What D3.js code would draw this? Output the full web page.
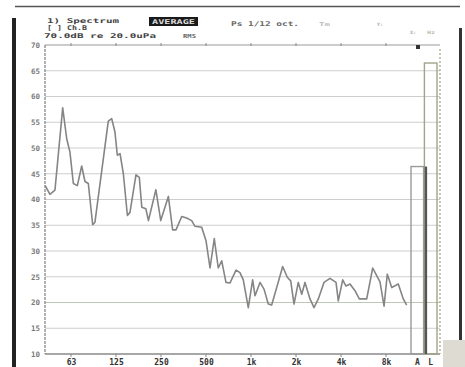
<!DOCTYPE html>
<html><head><meta charset="utf-8">
<script src="https://cdn.jsdelivr.net/npm/d3@7"></script>
<style>body{margin:0;background:#fff}svg{display:block}</style>
</head><body><svg id="c" width="465" height="367"></svg>
<script>
// 1/12-octave spectrum trace (Hz, dB re 20 uPa)
const freqs = [42,45.2,48.8,55,58.5,61.5,64.8,68.9,73.7,77.5,81.6,87.3,90.4,111,117,123,127.6,133,140,149,155,170,179,186,198,206,231,249,280,299,315,344,371,401,422,468,500,532,568,604,637,680,724,794,844,888,959,1026,1064,1149,1222,1305,1375,1486,1629,1749,1843,1940,2072,2184,2297,2481,2639,2820,3078,3377,3704,3837,4107,4320,4595,4963,5303,5944,6519,6931,7294,7763,8163,8738,9669,10438,11000];
const levels = [42.7,41.0,41.8,57.8,51.8,49.2,43.1,42.7,46.5,43.5,43.1,35.1,35.6,55.2,55.7,53.1,48.6,48.9,45.0,36.9,37.5,44.8,44.3,38.5,38.2,35.9,41.9,35.9,40.6,34.1,34.1,36.7,36.4,35.9,34.8,34.6,32.0,26.7,32.4,26.7,28.1,23.9,23.8,26.3,25.8,24.4,19.0,24.4,21.3,23.9,22.6,19.7,19.5,22.9,27.0,24.9,24.2,19.7,23.9,21.6,23.9,20.7,19.0,20.7,23.9,24.7,23.9,20.3,24.4,23.2,23.6,22.3,20.7,20.7,26.7,25.2,24.0,19.3,25.5,22.9,23.6,20.7,19.5];
const tickFreqs = [62.5,125,250,500,1000,2000,4000,8000];
const tickLabels = ["63","125","250","500","1k","2k","4k","8k"];
const bandLabels = ["A","L"];
const bandLevels = [46.4,66.5];
const yTicks = [10,15,20,25,30,35,40,45,50,55,60,65,70];

const svg = d3.select("#c");
const L = 45, R = 440, T = 45, B = 354;
const x = d3.scaleLog().base(2).domain([62.5, 8000]).range([71, 386]);
const y = d3.scaleLinear().domain([10, 70]).range([B, T]);
const xb = d3.scaleBand().domain(bandLabels).range([411, 437]).paddingInner(0.06);
const mono = "'DejaVu Sans Mono', monospace";

// scan frame
svg.append("rect").attr("x",12).attr("y",18).attr("width",4).attr("height",349).attr("fill","#222");
svg.append("rect").attr("x",459).attr("y",28).attr("width",3).attr("height",315).attr("fill","#333");
svg.append("line").attr("x1",15).attr("x2",460).attr("y1",6.5).attr("y2",6.5).attr("stroke","#555").attr("stroke-width",1.6);
svg.append("rect").attr("x",443).attr("y",340).attr("width",22).attr("height",27).attr("fill","#dedcd2");

// grid
svg.append("g").selectAll("line").data(yTicks.filter(d => d > 10 && d < 70)).join("line")
  .attr("x1", L).attr("x2", R).attr("y1", d => y(d)).attr("y2", d => y(d))
  .attr("stroke", d => d === 20 ? "#bfc8b6" : "#cdcdcd").attr("stroke-width", 1.2);

// frame lines
svg.append("line").attr("x1",L).attr("x2",R).attr("y1",T).attr("y2",T).attr("stroke","#9a9a9a").attr("stroke-width",1.2);
svg.append("line").attr("x1",L).attr("x2",R).attr("y1",B).attr("y2",B).attr("stroke","#8a8a8a").attr("stroke-width",1.4);
svg.append("line").attr("x1",L).attr("x2",L).attr("y1",T).attr("y2",B).attr("stroke","#888").attr("stroke-width",1.3).attr("stroke-dasharray","3,1");
svg.append("line").attr("x1",R).attr("x2",R).attr("y1",T+4).attr("y2",B).attr("stroke","#a8a890").attr("stroke-width",1.3).attr("stroke-dasharray","2,2");

// ticks top/bottom
svg.append("g").selectAll("line").data(tickFreqs).join("line")
  .attr("x1", d => x(d)).attr("x2", d => x(d)).attr("y1", T - 2).attr("y2", T + 1)
  .attr("stroke", "#888");
svg.append("g").selectAll("line").data(tickFreqs).join("line")
  .attr("x1", d => x(d)).attr("x2", d => x(d)).attr("y1", B).attr("y2", B + 3)
  .attr("stroke", "#888");

// y labels
const ya = svg.append("g").attr("transform", `translate(${L - 5},0)`)
  .call(d3.axisLeft(y).tickValues(yTicks).tickSize(0).tickPadding(0));
ya.select(".domain").remove();
ya.selectAll("text").attr("font-family", mono).attr("font-size", 7.5).attr("font-weight", "bold")
  .attr("fill", "#7a7a7a");

// x labels
const xa = svg.append("g").attr("transform", `translate(0,${B + 3})`)
  .call(d3.axisBottom(x).tickValues(tickFreqs).tickFormat((d, i) => tickLabels[i]).tickSize(0).tickPadding(2));
xa.select(".domain").remove();
xa.selectAll("text").attr("font-family", mono).attr("font-size", 8).attr("font-weight", "bold").attr("fill", "#333");
const ba = svg.append("g").attr("transform", `translate(0,${B + 3})`)
  .call(d3.axisBottom(xb).tickSize(0).tickPadding(2));
ba.select(".domain").remove();
ba.selectAll("text").attr("font-family", mono).attr("font-size", 8).attr("font-weight", "bold").attr("fill", "#333");

// A / L bars
svg.append("g").selectAll("rect").data(bandLabels).join("rect")
  .attr("x", d => xb(d)).attr("width", xb.bandwidth())
  .attr("y", (d, i) => y(bandLevels[i])).attr("height", (d, i) => B - y(bandLevels[i]))
  .attr("fill", "none").attr("stroke", (d, i) => i ? "#a3a38a" : "#9a9a9a").attr("stroke-width", 1.4);
svg.append("line").attr("x1", xb("L") + 1.5).attr("x2", xb("L") + 1.5)
  .attr("y1", y(bandLevels[0])).attr("y2", B).attr("stroke", "#555").attr("stroke-width", 2.4);

// trace
const pts = freqs.map((f, i) => [f, levels[i]]);
svg.append("path").datum(pts)
  .attr("d", d3.line().x(d => x(d[0])).y(d => y(d[1])))
  .attr("fill", "none").attr("stroke", "#858585").attr("stroke-width", 1.6).attr("stroke-linejoin", "round");

// cursor marker
svg.append("rect").attr("x", 416).attr("y", 45).attr("width", 4).attr("height", 4).attr("fill", "#333");

// header texts
function txt(s, px, py, w, opts = {}) {
  const t = svg.append("text").attr("x", px).attr("y", py).text(s)
    .attr("font-family", mono).attr("font-size", opts.size || 6.5).attr("font-weight", "bold")
    .attr("fill", opts.fill || "#444");
  if (w) t.attr("textLength", w).attr("lengthAdjust", "spacingAndGlyphs");
  return t;
}
txt("1) Spectrum", 47, 23, 72);
txt("[ ] Ch.B", 47, 30, 40);
txt("70.0dB re 20.0uPa", 44, 38, 112);
svg.append("rect").attr("x", 149).attr("y", 17).attr("width", 49).attr("height", 9).attr("fill", "#1a1a1a");
txt("AVERAGE", 152, 24, 43, { fill: "#ddd" });
txt("RMS", 183, 38, 13, { size: 5.5, fill: "#666" });
txt("Ps 1/12 oct.", 231, 26, 68, { fill: "#666" });
txt("Tm", 319, 26, 11, { size: 5, fill: "#bbb" });
txt("Y:", 377, 26, 6, { size: 4.5, fill: "#aaa" });
txt("X:", 410, 34, 6, { size: 4.5, fill: "#aaa" });
txt("Hz", 427, 34, 8, { size: 4.5, fill: "#b8b8a0" });
</script></body></html>
